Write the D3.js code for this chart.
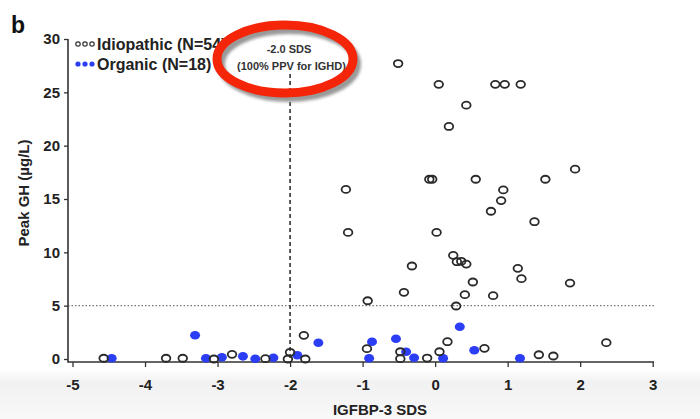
<!DOCTYPE html>
<html>
<head>
<meta charset="utf-8">
<script src="https://cdn.jsdelivr.net/npm/d3@7"></script>
<style>
  body { margin: 0; background: #fff; }
  svg { display: block; font-family: "Liberation Sans", Arial, sans-serif; }
</style>
</head>
<body>
<script>
// Idiopathic GHD (open circles)
const idioX = [-0.51, 0.05, 0.83, 0.96, 1.18, 0.43, 0.19, 1.93, -0.08, -0.04, 0.56, 1.52,
  -1.23, 0.94, 0.91, 0.77, 1.37, -1.2, 0.02, 0.25, 0.30, 0.36, 0.43, -0.32, 1.14, 1.19,
  0.52, 1.86, -0.43, 0.41, 0.8, -0.93, 0.29,
  0.17, 2.36, -0.94, -0.48, 0.68, 0.06, 1.43, 1.63, -0.48, -0.11,
  -4.57, -3.71, -3.48, -3.05, -2.80, -2.34, -2.03, -2.0, -1.81, -1.79];
const idioY = [27.7, 25.75, 25.75, 25.75, 25.75, 23.8, 21.8, 17.8, 16.85, 16.85, 16.85, 16.85,
  15.9, 15.85, 14.85, 13.85, 12.87, 11.87, 11.87, 9.72, 9.12, 9.16, 8.9, 8.72, 8.5, 7.53,
  7.22, 7.12, 6.25, 6.03, 5.94, 5.46, 4.97,
  1.62, 1.53, 0.97, 0.68, 1.0, 0.68, 0.4, 0.28, 0.03, 0.09,
  0.07, 0.07, 0.07, 0, 0.44, 0.03, 0, 0.63, 2.22, 0];

// Organic GHD (filled blue)
const orgX = [-4.46, -3.31, -3.16, -2.94, -2.65, -2.48, -2.23, -1.90, -1.61,
  0.34, -0.54, -0.87, -0.40, 0.54, -0.91, -0.29, 0.11, 1.17];
const orgY = [0.07, 2.22, 0.07, 0.16, 0.25, 0.03, 0.12, 0.35, 1.53,
  3.03, 1.9, 1.62, 0.68, 0.82, 0.07, 0.12, 0.07, 0.07];

const xTicks = [-5, -4, -3, -2, -1, 0, 1, 2, 3];
const yTicks = [0, 5, 10, 15, 20, 25, 30];

const W = 700, H = 419;
const x = d3.scaleLinear().domain([-5, 3]).range([72.5, 652.7]);
const y = d3.scaleLinear().domain([0, 30]).range([359, 39]);
const axisX = 68, axisY = 362;

const svg = d3.select("body").append("svg").attr("width", W).attr("height", H);

const defs = svg.append("defs");
const grad = defs.append("linearGradient").attr("id", "bg").attr("x1", 0).attr("y1", 0).attr("x2", 0).attr("y2", 1);
grad.append("stop").attr("offset", 0).attr("stop-color", "#ffffff");
grad.append("stop").attr("offset", 0.25).attr("stop-color", "#f1f1f1");
grad.append("stop").attr("offset", 1).attr("stop-color", "#f8f8f8");
defs.append("filter").attr("id", "blur").append("feGaussianBlur").attr("stdDeviation", 1.5);

svg.append("rect").attr("x", 0).attr("y", 370).attr("width", W).attr("height", H - 370).attr("fill", "url(#bg)");

// reference lines
svg.append("line")
  .attr("x1", axisX).attr("x2", 654).attr("y1", y(5)).attr("y2", y(5))
  .attr("stroke", "#777").attr("stroke-width", 1.2).attr("stroke-dasharray", "1.5,2");
svg.append("line")
  .attr("x1", x(-2)).attr("x2", x(-2)).attr("y1", 74).attr("y2", y(0))
  .attr("stroke", "#333").attr("stroke-width", 1.6).attr("stroke-dasharray", "4,3");

// axes
const gx = svg.append("g").attr("transform", `translate(0,${axisY})`)
  .call(d3.axisBottom(x).tickValues(xTicks).tickSize(5).tickPadding(12).tickFormat(d3.format("d")));
const gy = svg.append("g").attr("transform", `translate(${axisX},0)`)
  .call(d3.axisLeft(y).tickValues(yTicks).tickSize(4).tickPadding(4));
[gx, gy].forEach(g => {
  g.select(".domain").remove();
  g.selectAll(".tick line").attr("stroke", "#333").attr("stroke-width", 1.3);
  g.selectAll(".tick text").attr("fill", "#222").style("font-size", "15px").style("font-weight", "bold")
    .style("font-family", "Liberation Sans, Arial, sans-serif");
});
gx.selectAll(".tick text").text(d => d < 0 ? "-" + Math.abs(d) : d);
svg.append("path")
  .attr("d", `M${axisX},${y(30)}V${axisY}H654`)
  .attr("fill", "none").attr("stroke", "#333").attr("stroke-width", 1.6);

// titles
svg.append("text").attr("x", 380).attr("y", 415).attr("text-anchor", "middle")
  .attr("font-size", 15).attr("font-weight", "bold").attr("fill", "#222").text("IGFBP-3 SDS");
svg.append("text").attr("transform", "translate(29,193) rotate(-90)").attr("text-anchor", "middle")
  .attr("font-size", 15).attr("font-weight", "bold").attr("fill", "#222").text("Peak GH (\u00b5g/L)");
svg.append("text").attr("x", 11).attr("y", 33).attr("font-size", 23).attr("font-weight", "bold")
  .attr("fill", "#111").text("b");

// points
svg.append("g").selectAll("ellipse").data(orgX).join("ellipse")
  .attr("cx", (d, i) => x(d)).attr("cy", (d, i) => y(orgY[i]))
  .attr("rx", 5).attr("ry", 4.3).attr("fill", "#2b3df5");
svg.append("g").selectAll("ellipse").data(idioX).join("ellipse")
  .attr("cx", (d, i) => x(d)).attr("cy", (d, i) => y(idioY[i]))
  .attr("rx", 4.3).attr("ry", 3.5).attr("fill", "none").attr("stroke", "#2a2a2a").attr("stroke-width", 1.8);

// legend
const leg = svg.append("g");
[78, 85, 92].forEach(cx => {
  leg.append("circle").attr("cx", cx).attr("cy", 44).attr("r", 2.2)
    .attr("fill", "none").attr("stroke", "#333").attr("stroke-width", 1.2);
  leg.append("circle").attr("cx", cx).attr("cy", 64).attr("r", 2.6).attr("fill", "#2b3df5");
});
const t1 = leg.append("text").attr("x", 97).attr("y", 50).attr("font-size", 16).attr("font-weight", "bold").attr("fill", "#222");
t1.append("tspan").text("Idiopathic (N=54)");
t1.append("tspan").attr("dy", -7).attr("font-size", 8).text("*");
leg.append("text").attr("x", 97).attr("y", 70).attr("font-size", 16).attr("font-weight", "bold").attr("fill", "#222")
  .text("Organic (N=18)");

// annotation
svg.append("text").attr("x", 289).attr("y", 53).attr("text-anchor", "middle")
  .attr("font-size", 11).attr("font-weight", "bold").attr("fill", "#333").text("-2.0 SDS");
svg.append("text").attr("x", 237).attr("y", 70)
  .attr("font-size", 11).attr("font-weight", "bold").attr("fill", "#333").text("(100% PPV for IGHD)");

svg.append("ellipse").attr("cx", 289).attr("cy", 64).attr("rx", 68).attr("ry", 34)
  .attr("fill", "none").attr("stroke", "#999").attr("stroke-width", 8).attr("filter", "url(#blur)");
svg.append("ellipse").attr("cx", 285).attr("cy", 59).attr("rx", 68).attr("ry", 34)
  .attr("fill", "none").attr("stroke", "#f5250a").attr("stroke-width", 9);
</script>
</body>
</html>
